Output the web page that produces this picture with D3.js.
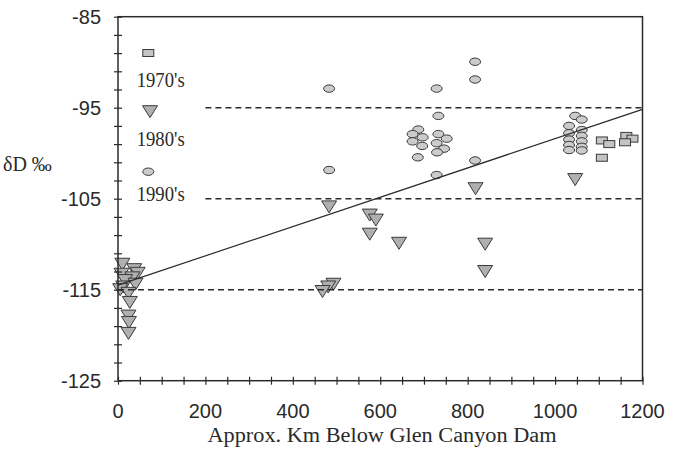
<!DOCTYPE html>
<html><head><meta charset="utf-8">
<script src="https://cdn.jsdelivr.net/npm/d3@7"></script>
<style>body{margin:0;background:#fff}</style>
</head><body><svg id="c" width="680" height="452"></svg>
<script>
// ---- data ----
const xTickValues = [0, 200, 400, 600, 800, 1000, 1200];
const yTickValues = [-125, -115, -105, -95, -85];
const legendLabels = ["1970's", "1980's", "1990's"];
const xTitle = "Approx. Km Below Glen Canyon Dam";
const yTitle = "\u03B4D \u2030";
const data1970s = [[1107, -98.6], [1124, -99.0], [1107, -100.5], [1163, -98.1], [1177, -98.4], [1160, -98.8]];
const data1980s = [
  [10, -112.2], [37, -112.8], [45, -113.2], [8, -113.3], [33, -113.7], [16, -114.0], [40, -114.4],
  [12, -114.7], [5, -115.0], [24, -115.4], [27, -116.4], [24, -117.9], [25, -118.6], [24, -119.8],
  [483, -105.9], [576, -106.8], [590, -107.35], [576, -108.9], [643, -109.9],
  [493, -114.4], [481, -114.7], [468, -115.2],
  [818, -103.9], [840, -110.0], [840, -113.0], [1046, -102.9]
];
const data1990s = [
  [483, -92.9], [483, -101.85], [729, -92.9], [733, -95.9], [729, -102.4],
  [687, -97.4], [674, -97.9], [697, -98.25], [674, -98.7], [696, -99.2], [686, -100.45],
  [733, -97.9], [752, -98.4], [729, -98.9], [746, -99.5], [730, -99.9],
  [817, -89.95], [817, -91.9], [817, -100.8],
  [1046, -95.9], [1061, -96.3], [1032, -97.0], [1061, -97.45], [1032, -97.8], [1061, -98.1],
  [1032, -98.5], [1061, -98.7], [1032, -99.1], [1061, -99.3], [1032, -99.65], [1061, -99.7]
];
const refLevels = [-95, -105, -115];
const refStarts = [200, 200, 0];
const fitIntercept = -114.5, fitSlope = 0.0161;

// ---- layout ----
const svg = d3.select("#c");
const L = 118, R = 642.5, T = 16.7, B = 380.7;
const x = d3.scaleLinear().domain([0, 1200]).range([L, R]);
const y = d3.scaleLinear().domain([-125, -85]).range([B, T]);
const ink = "#2a2a2a";

// markers
const fillSq = "#c4c4c4", fillTri = "#b0b0b0", fillEl = "#cbcbcb", mk = "#3a3a3a";
function square(g, cx, cy) {
  g.append("rect").attr("x", cx - 5.5).attr("y", cy - 3.5).attr("width", 11).attr("height", 7)
    .attr("fill", fillSq).attr("stroke", mk).attr("stroke-width", 1);
}
function tri(g, cx, cy) {
  g.append("path").attr("d", `M${cx - 7.5},${cy - 6}L${cx + 7.5},${cy - 6}L${cx},${cy + 6}Z`)
    .attr("fill", fillTri).attr("stroke", mk).attr("stroke-width", 1);
}
function ell(g, cx, cy) {
  g.append("ellipse").attr("cx", cx).attr("cy", cy).attr("rx", 5.5).attr("ry", 3.7)
    .attr("fill", fillEl).attr("stroke", mk).attr("stroke-width", 1);
}

const gm = svg.append("g");
data1980s.forEach(d => tri(gm, x(d[0]), y(d[1])));
data1990s.forEach(d => ell(gm, x(d[0]), y(d[1])));
data1970s.forEach(d => square(gm, x(d[0]), y(d[1])));

// reference dashed lines
refLevels.forEach((v, i) => {
  svg.append("line").attr("x1", x(refStarts[i])).attr("x2", R).attr("y1", y(v)).attr("y2", y(v))
    .attr("stroke", ink).attr("stroke-width", 1.5).attr("stroke-dasharray", "6,4");
});
// fit line
svg.append("line").attr("x1", x(0)).attr("x2", x(1200))
  .attr("y1", y(fitIntercept)).attr("y2", y(fitIntercept + fitSlope * 1200))
  .attr("stroke", ink).attr("stroke-width", 1.2);

// frame
svg.append("rect").attr("x", L).attr("y", T).attr("width", R - L).attr("height", B - T)
  .attr("fill", "none").attr("stroke", ink).attr("stroke-width", 1.5);

// axes
const xAxis = svg.append("g").attr("transform", `translate(0,${B})`)
  .call(d3.axisBottom(x).tickValues(d3.range(0, 1201, 50)).tickSize(4).tickFormat(""));
xAxis.select(".domain").remove();
xAxis.selectAll(".tick line").attr("y1", -4).attr("y2", 4).attr("stroke", ink).attr("stroke-width", 1.2);
const yAxis = svg.append("g").attr("transform", `translate(${L},0)`)
  .call(d3.axisLeft(y).tickValues(d3.range(-125, -84, 2)).tickSize(4).tickFormat(""));
yAxis.select(".domain").remove();
yAxis.selectAll(".tick line").attr("x1", -4).attr("x2", 4).attr("stroke", ink).attr("stroke-width", 1.2);

// tick labels
const sans = "'Liberation Sans', Arial, sans-serif", serif = "'Liberation Serif', 'Times New Roman', serif";
svg.append("g").selectAll("text").data(xTickValues).join("text")
  .attr("x", d => x(d)).attr("y", 417.5).attr("text-anchor", "middle")
  .attr("font-family", sans).attr("font-size", 20).attr("fill", ink).text(d => d);
svg.append("g").selectAll("text").data(yTickValues).join("text")
  .attr("x", 101).attr("y", d => y(d) + 7).attr("text-anchor", "end")
  .attr("font-family", sans).attr("font-size", 20).attr("fill", ink).text(d => d);

// titles
svg.append("text").attr("x", 382).attr("y", 441.7).attr("text-anchor", "middle")
  .attr("font-family", serif).attr("font-size", 20).attr("fill", ink)
  .attr("textLength", 349).attr("lengthAdjust", "spacingAndGlyphs").text(xTitle);
svg.append("text").attr("x", 3).attr("y", 171).attr("font-family", serif).attr("font-size", 20)
  .attr("fill", ink).text(yTitle);

// legend
const lg = svg.append("g");
square(lg, 148.3, 53);
tri(lg, 150, 111.7);
ell(lg, 148.3, 171.7);
const legendY = [86.7, 146, 200.7];
legendLabels.forEach((t, i) => {
  lg.append("text").attr("x", 136.7).attr("y", legendY[i]).attr("font-family", serif).attr("font-size", 20)
    .attr("fill", ink).attr("textLength", 48).attr("lengthAdjust", "spacingAndGlyphs").text(t);
});
</script></body></html>
